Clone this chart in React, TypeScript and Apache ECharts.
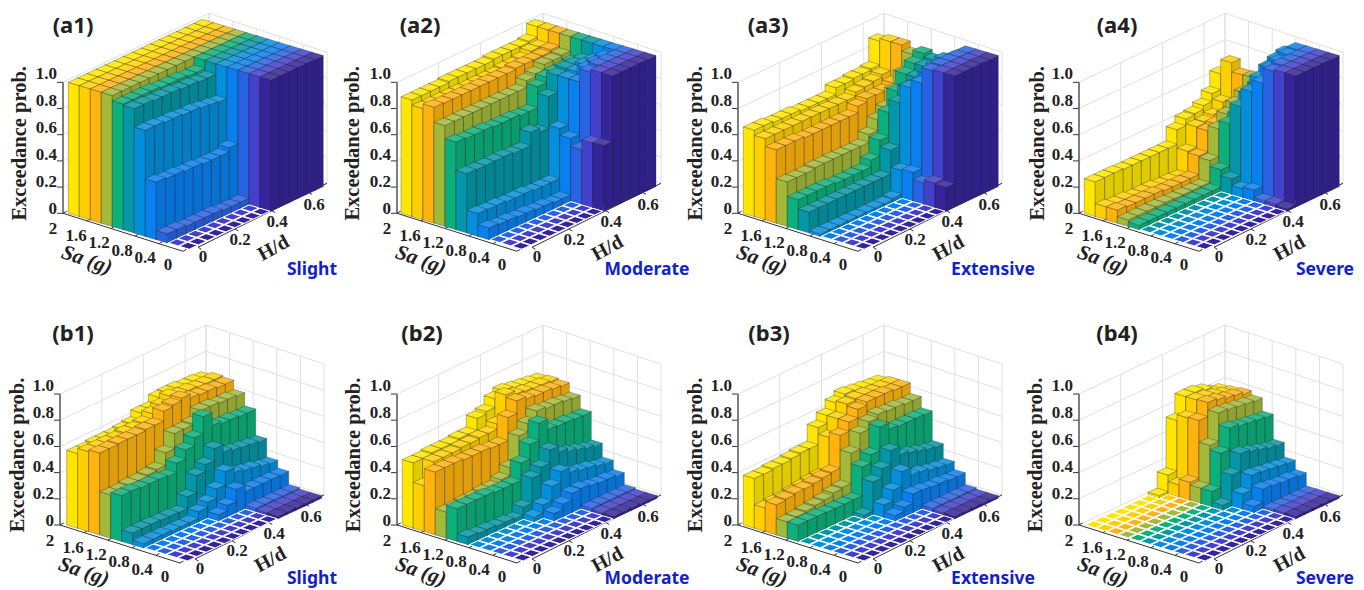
import React, { useEffect, useRef } from "react";
import * as echarts from "echarts";

// Rows run Sa = 2 ... 0 (11 rows), columns H/d = 0 ... 0.7 (15 columns)
const rowColors = ["#FFE600", "#FFD000", "#FFB30F", "#A3B93A", "#0DB07C", "#0497A8", "#048FDC", "#0A80F0", "#2A62E4", "#4340CC", "#35249A"];
const zTicks = ["0", "0.2", "0.4", "0.6", "0.8", "1.0"];
const saTicks = ["2", "1.6", "1.2", "0.8", "0.4", "0"];
const hdTicks = ["0", "0.2", "0.4", "0.6"];

const a1 = [
  [1,1,1,1,1,1,1,1,1,1,1,1,1,1,1],
  [1,1,1,1,1,1,1,1,1,1,1,1,1,1,1],
  [1,1,1,1,1,1,1,1,1,1,1,1,1,1,1],
  [1,1,1,1,1,1,1,1,1,1,1,1,1,1,1],
  [.96,.96,.96,.96,.95,.95,.95,.94,.94,1,1,1,1,1,1],
  [.95,.95,.94,.94,.94,.93,.93,.92,.92,1,1,1,1,1,1],
  [.81,.81,.80,.80,.79,.79,.78,.77,.76,1,1,1,1,1,1],
  [.44,.43,.43,.42,.42,.41,.41,.41,.44,1,1,1,1,1,1],
  [.07,.07,.06,.06,.06,.06,.05,.05,.05,1,1,1,1,1,1],
  [0,0,0,0,0,0,0,0,0,1,1,1,1,1,1],
  [0,0,0,0,0,0,0,0,0,1,1,1,1,1,1],
];
const a2 = [
  [.89,.89,.89,.89,.90,.90,.90,.90,.90,.91,.91,.91,.91,.92,1],
  [.85,.85,.85,.85,.85,.85,.85,.85,.85,.86,.86,.87,.90,.90,1],
  [.885,.88,.88,.88,.88,.88,.88,.88,.88,.89,.89,.89,.89,.905,1],
  [.77,.77,.77,.77,.77,.77,.77,.77,.77,.82,.84,.88,.88,.89,1],
  [.67,.66,.66,.66,.65,.65,.65,.64,.64,.80,.84,.845,.85,.86,1],
  [.455,.45,.45,.45,.45,.44,.44,.54,.51,.75,.88,.90,.90,.90,1],
  [.175,.17,.17,.16,.16,.16,.15,.15,.15,.53,.88,.90,.92,.92,1],
  [.09,.08,.08,.07,.07,.06,.06,.05,.05,.48,.88,.95,.96,.97,1],
  [0,0,0,0,0,0,0,0,0,.42,.98,1,1,1,1],
  [0,0,0,0,0,0,0,0,0,.495,1,1,1,1,1],
  [0,0,0,0,0,0,0,0,0,.50,1,1,1,1,1],
];
const a3 = [
  [.66,.66,.65,.65,.65,.64,.64,.64,.64,.69,.69,.70,.70,.71,.89],
  [.62,.62,.62,.62,.62,.62,.62,.62,.62,.62,.65,.66,.67,.69,.91],
  [.56,.56,.56,.55,.55,.55,.55,.55,.55,.60,.625,.62,.62,.65,.91],
  [.34,.34,.34,.35,.35,.35,.35,.35,.35,.41,.49,.55,.65,.75,.865],
  [.23,.23,.23,.23,.22,.22,.22,.22,.27,.39,.57,.70,.80,.85,.895],
  [.16,.16,.16,.16,.16,.16,.16,.16,.16,.34,.67,.75,.80,.85,.87],
  [.02,.02,.02,.02,.02,.02,.02,.02,.03,.21,.81,.81,.85,.88,.90],
  [0,0,0,0,0,0,0,0,0,.22,.87,.90,.91,.93,.94],
  [0,0,0,0,0,0,0,0,0,.165,.99,1,1,1,1],
  [0,0,0,0,0,0,0,0,0,.19,1,1,1,1,1],
  [0,0,0,0,0,0,0,0,0,.18,1,1,1,1,1],
];
const a4 = [
  [.265,.265,.265,.26,.26,.26,.26,.26,.26,.37,.42,.43,.46,.52,.64],
  [.10,.09,.09,.08,.08,.08,.07,.07,.065,.23,.385,.39,.41,.48,.75],
  [.10,.09,.09,.09,.09,.08,.08,.08,.08,.22,.38,.40,.42,.44,.68],
  [.05,.05,.05,.05,.05,.045,.045,.045,.045,.21,.42,.50,.55,.60,.685],
  [.035,.035,.035,.035,.035,.035,.035,.035,.035,.165,.485,.52,.55,.58,.60],
  [0,0,0,0,0,0,0,0,0,.12,.64,.70,.74,.78,.80],
  [0,0,0,0,0,0,0,0,0,.07,.78,.85,.90,.93,.95],
  [0,0,0,0,0,0,0,0,0,.085,.87,.95,.97,.99,1],
  [0,0,0,0,0,0,0,0,0,.03,.985,1,1,1,1],
  [0,0,0,0,0,0,0,0,0,.03,1,1,1,1,1],
  [0,0,0,0,0,0,0,0,0,.02,1,1,1,1,1],
];
const b1 = [
  [.57,.57,.58,.58,.58,.59,.60,.65,.65,.705,.71,.71,.70,.70,.69],
  [.61,.61,.61,.61,.62,.62,.63,.67,.70,.74,.72,.72,.71,.71,.71],
  [.625,.625,.63,.63,.63,.64,.64,.715,.73,.75,.72,.71,.71,.70,.70],
  [.33,.33,.34,.34,.35,.36,.455,.57,.57,.58,.65,.65,.64,.64,.63],
  [.35,.35,.34,.34,.34,.33,.40,.47,.53,.66,.56,.54,.54,.53,.53],
  [.09,.09,.09,.085,.085,.08,.17,.30,.35,.44,.38,.36,.35,.34,.33],
  [.035,.035,.035,.03,.03,.03,.08,.12,.19,.29,.25,.23,.22,.20,.19],
  [0,0,0,0,0,0,0,.05,.09,.18,.13,.13,.13,.13,.13],
  [0,0,0,0,0,0,0,0,0,0,.03,.03,.03,.03,.03],
  [0,0,0,0,0,0,0,0,0,0,.02,.02,.02,.02,.02],
  [0,0,0,0,0,0,0,0,0,0,.02,.02,.02,.02,.02],
];
const b2 = [
  [.50,.50,.51,.51,.51,.52,.52,.61,.63,.695,.725,.71,.70,.69,.68],
  [.35,.50,.50,.50,.51,.51,.52,.52,.56,.75,.72,.71,.70,.70,.69],
  [.48,.48,.48,.47,.47,.47,.46,.46,.635,.73,.71,.70,.70,.69,.68],
  [.20,.20,.21,.21,.22,.22,.25,.31,.52,.58,.645,.63,.63,.62,.61],
  [.25,.25,.25,.25,.24,.24,.24,.37,.48,.61,.53,.52,.52,.51,.51],
  [.06,.05,.05,.04,.04,.03,.09,.28,.33,.43,.38,.35,.33,.31,.295],
  [0,0,0,0,0,0,.04,.10,.21,.29,.25,.23,.22,.20,.19],
  [0,0,0,0,0,0,0,.06,.10,.15,.155,.14,.13,.13,.12],
  [0,0,0,0,0,0,0,0,0,0,.03,.03,.03,.03,.03],
  [0,0,0,0,0,0,0,0,0,0,.02,.02,.02,.02,.02],
  [0,0,0,0,0,0,0,0,0,0,.02,.02,.02,.02,.02],
];
const b3 = [
  [.38,.38,.39,.39,.40,.41,.41,.54,.60,.665,.70,.69,.68,.67,.665],
  [.18,.19,.19,.20,.21,.22,.225,.49,.60,.68,.69,.69,.68,.68,.68],
  [.23,.24,.25,.25,.26,.27,.28,.53,.60,.665,.69,.69,.69,.68,.68],
  [.125,.13,.14,.15,.16,.18,.19,.42,.54,.595,.62,.61,.61,.60,.60],
  [.125,.125,.125,.12,.12,.12,.12,.34,.40,.58,.53,.52,.52,.52,.515],
  [0,0,0,0,0,0,.03,.25,.32,.425,.36,.34,.32,.30,.29],
  [0,0,0,0,0,0,0,.10,.18,.29,.23,.22,.20,.19,.18],
  [0,0,0,0,0,0,0,.045,.075,.145,.14,.13,.13,.12,.12],
  [0,0,0,0,0,0,0,0,0,0,.03,.03,.03,.03,.03],
  [0,0,0,0,0,0,0,0,0,0,.02,.02,.02,.02,.02],
  [0,0,0,0,0,0,0,0,0,0,.02,.02,.02,.02,.02],
];
const b4 = [
  [0,0,0,0,0,0,0,.02,.145,.53,.68,.68,.66,.62,.60],
  [0,0,0,0,0,0,0,0,.095,.575,.68,.67,.65,.63,.61],
  [0,0,0,0,0,0,0,0,.14,.58,.685,.67,.65,.64,.62],
  [0,0,0,0,0,0,0,0,.12,.415,.63,.62,.61,.60,.59],
  [0,0,0,0,0,0,0,0,.12,.38,.54,.52,.51,.50,.49],
  [0,0,0,0,0,0,0,0,.04,.24,.37,.35,.33,.31,.30],
  [0,0,0,0,0,0,0,0,0,.12,.23,.22,.21,.20,.19],
  [0,0,0,0,0,0,0,0,0,.05,.15,.14,.13,.13,.12],
  [0,0,0,0,0,0,0,0,0,0,.02,.02,.02,.02,.02],
  [0,0,0,0,0,0,0,0,0,0,.02,.02,.02,.02,.02],
  [0,0,0,0,0,0,0,0,0,0,.02,.02,.02,.02,.02],
];

const panels = [
  { title: "(a1)", damage: "Slight", values: a1, lx: 63, ly: 213.3, bx: 68.3, tx: 73, ty: 24, dx: 312, dy: 268, ylx: 19 },
  { title: "(a2)", damage: "Moderate", values: a2, lx: 397, ly: 213.3, bx: 401, tx: 420, ty: 24, dx: 647, dy: 268, ylx: 352 },
  { title: "(a3)", damage: "Extensive", values: a3, lx: 738, ly: 213.3, bx: 743.3, tx: 768, ty: 24, dx: 993, dy: 268, ylx: 695 },
  { title: "(a4)", damage: "Severe", values: a4, lx: 1079, ly: 213.3, bx: 1084.3, tx: 1117, ty: 24, dx: 1325, dy: 268, ylx: 1037 },
  { title: "(b1)", damage: "Slight", values: b1, lx: 60, ly: 525, bx: 66.7, tx: 73, ty: 332, dx: 312, dy: 577, ylx: 17 },
  { title: "(b2)", damage: "Moderate", values: b2, lx: 397, ly: 525, bx: 402.3, tx: 422, ty: 332, dx: 647, dy: 577, ylx: 353 },
  { title: "(b3)", damage: "Extensive", values: b3, lx: 738, ly: 525, bx: 743.3, tx: 769, ty: 332, dx: 993, dy: 577, ylx: 695 },
  { title: "(b4)", damage: "Severe", values: b4, lx: 1079, ly: 525, bx: 1084.3, tx: 1117, ty: 332, dx: 1325, dy: 577, ylx: 1035 },
];

const Z_H = 131;
const persp = (t: number) => t / (t + 0.96 * (1 - t));

function shade(hex: string, k: number) {
  const n = parseInt(hex.slice(1), 16);
  const ch = (v: number) => Math.max(0, Math.min(255, Math.round(k >= 0 ? v + (255 - v) * k : v * (1 + k))));
  return `rgb(${ch((n >> 16) & 255)},${ch((n >> 8) & 255)},${ch(n & 255)})`;
}

function buildSeries(p: (typeof panels)[number]) {
  const pt = (r: number, c: number, z: number) => {
    const f = persp(c / 15);
    return [p.bx + 11 * r + 134 * f, p.ly + 3.3 * r - 63 * f - Z_H * z];
  };
  const data: number[][] = [];
  p.values.forEach((row, r) => {
    for (let c = row.length - 1; c >= 0; c--) data.push([r, c, row[c]]);
  });
  return {
    type: "custom",
    coordinateSystem: "none",
    silent: true,
    data,
    renderItem: (_: any, api: any) => {
      const r = api.value(0), c = api.value(1), v = api.value(2);
      const col = rowColors[r];
      if (v <= 0) {
        const i = 0.05;
        return {
          type: "polygon",
          shape: { points: [pt(r + i, c + i, 0), pt(r + 1 - i, c + i, 0), pt(r + 1 - i, c + 1 - i, 0), pt(r + i, c + 1 - i, 0)] },
          style: { fill: col, stroke: "#fff", lineWidth: 1 },
        };
      }
      const edge = { stroke: "rgba(35,35,35,0.5)", lineWidth: 0.6 };
      return {
        type: "group",
        children: [
          { type: "polygon", shape: { points: [pt(r, c, 0), pt(r + 1, c, 0), pt(r + 1, c, v), pt(r, c, v)] }, style: { fill: col, ...edge } },
          { type: "polygon", shape: { points: [pt(r + 1, c, 0), pt(r + 1, c + 1, 0), pt(r + 1, c + 1, v), pt(r + 1, c, v)] }, style: { fill: shade(col, -0.12), ...edge } },
          { type: "polygon", shape: { points: [pt(r, c, v), pt(r + 1, c, v), pt(r + 1, c + 1, v), pt(r, c + 1, v)] }, style: { fill: shade(col, 0.14), ...edge } },
        ],
      };
    },
  };
}

function buildGraphics(p: (typeof panels)[number]) {
  const out: any[] = [];
  const { lx: L, ly: Y } = p;
  const line = (x1: number, y1: number, x2: number, y2: number, stroke: string, lineWidth: number) =>
    out.push({ type: "line", shape: { x1, y1, x2, y2 }, style: { stroke, lineWidth } });
  const text = (x: number, y: number, t: string, font: string, fill: string, align = "center", rotation = 0) =>
    out.push({ type: "text", x, y, rotation, style: { text: t, font, fill, align, verticalAlign: "middle" } });
  const grid = "#e0e0e0";
  const tick = "bold 17px 'Liberation Serif'";
  const B = [L + 146, Y - 69], R = [L + 264, Y - 30], F = [L + 120, Y + 38];
  zTicks.forEach((t, i) => {
    const dz = (Z_H * i) / 5;
    line(L, Y - dz, B[0], B[1] - dz, grid, 1);
    line(B[0], B[1] - dz, R[0], R[1] - dz, grid, 1);
    line(L - 6, Y - dz, L, Y - dz, "#333", 1);
    text(L - 6, Y - 5 - 27 * i, t, tick, "#222", "right");
  });
  hdTicks.forEach((_, i) => {
    const k = i / 3.5;
    const x = L + 146 * k, y = Y - 69 * k;
    line(x, y, x, y - Z_H, grid, 1);
  });
  line(B[0], B[1], B[0], B[1] - Z_H, grid, 1);
  saTicks.forEach((t, i) => {
    const k = i / 5;
    const x = B[0] + (R[0] - B[0]) * k, y = B[1] + (R[1] - B[1]) * k;
    line(x, y, x, y - Z_H, grid, 1);
    const ax = L + (F[0] - L) * k, ay = Y + (F[1] - Y) * k;
    line(ax, ay, ax + 3.5, ay - 2, "#333", 1);
    text(L - 10 + 23 * i, Y + 15 + 7.3 * i, t, tick, "#222");
  });
  hdTicks.forEach((t, i) => {
    text(L + 140 + 37 * i, Y + 43 - 17.3 * i, t, tick, "#222");
    const ax = F[0] + 15 + ((R[0] - F[0] - 15) * i) / 3.5, ay = F[1] - 4 + ((R[1] - F[1] + 4) * i) / 3.5;
    line(ax, ay, ax + 3.5, ay + 2, "#333", 1);
  });
  line(L, Y, L, Y - Z_H, "#333", 1.2);
  line(L, Y, F[0], F[1], "#333", 1);
  line(F[0] + 15, F[1] - 4, R[0], R[1], "#333", 1);
  text(p.ylx, Y - 70, "Exceedance prob.", "bold 20.5px 'Liberation Serif'", "#222", "center", Math.PI / 2);
  text(L + 24, Y + 46, "Sa (g)", "italic bold 21px 'Liberation Serif'", "#222", "center", -0.33);
  text(L + 210, Y + 34, "H/d", "bold 20px 'Liberation Serif'", "#222", "center", 0.5);
  text(p.tx, p.ty, p.title, "bold 22px 'Noto Sans'", "#222");
  text(p.dx, p.dy, p.damage, "bold 17.5px 'Noto Sans'", "#0F22CC");
  return out;
}

export default function App() {
  const ref = useRef<HTMLDivElement>(null);
  useEffect(() => {
    document.body.style.margin = "0";
    const chart = echarts.init(ref.current!, undefined, { renderer: "svg" });
    chart.setOption({
      animation: false,
      backgroundColor: "#fff",
      series: panels.map(buildSeries),
      graphic: { elements: panels.flatMap(buildGraphics) },
    });
    return () => chart.dispose();
  }, []);
  return <div ref={ref} style={{ width: 1364, height: 590 }} />;
}
